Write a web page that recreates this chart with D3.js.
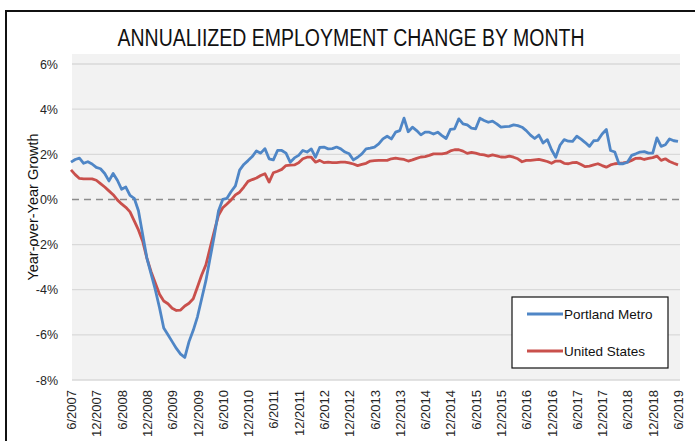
<!DOCTYPE html>
<html>
<head>
<meta charset="utf-8">
<script src="https://cdn.jsdelivr.net/npm/d3@7"></script>
<style>
  body { margin: 0; background: #fff; }
  svg { display: block; font-family: "Liberation Sans", Arial, sans-serif; }
</style>
</head>
<body>
<div id="chart"></div>
<script>

// monthly year-over-year growth, 6/2007 .. 6/2019 (%)
var portland = [
  1.65, 1.77, 1.83, 1.6, 1.67, 1.57, 1.42,
  1.36, 1.15, 0.82, 1.15, 0.85, 0.45, 0.55, 0.18, 0.05, -0.5, -1.55, -2.6,
  -3.3, -4.0, -4.8, -5.7, -6.0, -6.3, -6.6, -6.85, -7.0, -6.3, -5.8, -5.2,
  -4.4, -3.6, -2.6, -1.6, -0.5, 0.0, 0.05, 0.35, 0.6, 1.3, 1.55, 1.72,
  1.9, 2.15, 2.05, 2.25, 1.8, 1.75, 2.17, 2.17, 2.05, 1.65, 1.84, 1.95,
  2.17, 2.1, 2.24, 1.87, 2.3, 2.32, 2.24, 2.25, 2.32, 2.24, 2.1, 2.02,
  1.75, 1.87, 2.02, 2.24, 2.27, 2.32, 2.46, 2.68, 2.8, 2.68, 2.98, 3.05,
  3.6, 3.0, 3.2, 3.05, 2.86, 2.98, 2.98, 2.9, 2.98, 2.83, 2.7, 3.1,
  3.13, 3.57, 3.35, 3.3, 3.16, 3.13, 3.6, 3.5, 3.42, 3.47, 3.35, 3.2,
  3.23, 3.24, 3.3, 3.27, 3.2, 3.05, 2.85, 2.7, 2.85, 2.5, 2.65, 2.2,
  1.87, 2.4, 2.65, 2.58, 2.57, 2.8, 2.67, 2.52, 2.35, 2.6, 2.62, 2.9,
  3.1, 2.17, 2.1, 1.58, 1.58, 1.65, 1.95, 2.02, 2.1, 2.12, 2.05, 2.05,
  2.73, 2.35, 2.42, 2.68, 2.6, 2.57
];

var unitedStates = [
  1.31, 1.1, 0.93, 0.91, 0.91, 0.91, 0.85,
  0.7, 0.55, 0.38, 0.21, -0.02, -0.2, -0.35, -0.55, -0.95, -1.35, -1.85, -2.6,
  -3.2, -3.7, -4.2, -4.5, -4.62, -4.82, -4.92, -4.9, -4.72, -4.6, -4.4, -3.88,
  -3.35, -2.9, -2.15, -1.4, -0.7, -0.37, -0.2, -0.02, 0.2, 0.32, 0.55, 0.8,
  0.88, 0.95, 1.06, 1.14, 0.77, 1.18, 1.25, 1.33, 1.5, 1.52, 1.53, 1.62,
  1.8, 1.87, 1.87, 1.65, 1.73, 1.63, 1.65, 1.63, 1.63, 1.65, 1.65, 1.62,
  1.57, 1.5, 1.55, 1.6, 1.7, 1.72, 1.73, 1.73, 1.73, 1.8, 1.83, 1.8,
  1.77, 1.7, 1.75, 1.82, 1.88, 1.9, 1.95, 2.02, 2.02, 2.02, 2.05, 2.15,
  2.2, 2.2, 2.14, 2.04, 2.08, 2.05, 2.0, 1.97, 1.92, 1.97, 1.93, 1.88,
  1.87, 1.92, 1.87, 1.8, 1.67, 1.73, 1.73, 1.75, 1.77, 1.73, 1.68, 1.6,
  1.7, 1.7, 1.6, 1.58, 1.63, 1.64, 1.55, 1.45, 1.48, 1.53, 1.58, 1.5,
  1.43, 1.53, 1.58, 1.6, 1.62, 1.65, 1.73, 1.82, 1.83, 1.77, 1.82, 1.85,
  1.92, 1.73, 1.8, 1.68, 1.6, 1.53
];

var tickLabels = ["6/2007","12/2007","6/2008","12/2008","6/2009","12/2009","6/2010",
  "12/2010","6/2011","12/2011","6/2012","12/2012","6/2013","12/2013","6/2014",
  "12/2014","6/2015","12/2015","6/2016","12/2016","6/2017","12/2017","6/2018",
  "12/2018","6/2019"];

var yTicks = [-8, -6, -4, -2, 0, 2, 4, 6];

var seriesNames = ["Portland Metro", "United States"];
var seriesColors = ["#4f86c6", "#c9504c"];

var fmtMonth = d3.timeFormat("%-m/%Y");
var months = d3.timeMonth.range(new Date(2007, 5, 1), new Date(2019, 6, 1)).map(fmtMonth);

var width = 695, height = 441;
var plot = {left: 72, right: 680, top: 54, bottom: 380};

var svg = d3.select("#chart").append("svg")
    .attr("width", width)
    .attr("height", height);

// outer frame
svg.append("rect")
    .attr("x", 6).attr("y", 11)
    .attr("width", 760).attr("height", 500)
    .attr("fill", "#fff")
    .attr("stroke", "#111")
    .attr("stroke-width", 2);

svg.append("rect")
    .attr("x", plot.left).attr("y", plot.top)
    .attr("width", plot.right - plot.left)
    .attr("height", plot.bottom - plot.top)
    .attr("fill", "#f2f2f2");

var x = d3.scalePoint()
    .domain(months)
    .range([71, 678]);

var y = d3.scaleLinear()
    .domain([-8, 6])
    .range([380, 64]);

// gridlines
svg.append("g")
  .selectAll("line")
  .data(yTicks.filter(d => d !== 0))
  .join("line")
    .attr("x1", plot.left)
    .attr("x2", plot.right)
    .attr("y1", d => y(d))
    .attr("y2", d => y(d))
    .attr("stroke", "#d9d9d9")
    .attr("stroke-width", 1.3);

svg.append("line")
    .attr("x1", plot.left)
    .attr("x2", plot.right)
    .attr("y1", y(0))
    .attr("y2", y(0))
    .attr("stroke", "#8c8c8c")
    .attr("stroke-width", 1.5)
    .attr("stroke-dasharray", "7,5");

// y axis labels
var yAxis = d3.axisLeft(y)
    .tickValues(yTicks)
    .tickFormat(d => d + "%")
    .tickSize(0)
    .tickPadding(0);

svg.append("g")
    .attr("transform", "translate(58,0)")
    .call(yAxis)
    .call(g => g.select(".domain").remove())
    .selectAll("text")
        .style("font-size", "12.5px")
        .style("font-family", "'Liberation Sans', Arial, sans-serif")
        .attr("fill", "#262626");

// x axis labels
var xAxis = d3.axisBottom(x)
    .tickValues(tickLabels)
    .tickSize(0)
    .tickPadding(0);

svg.append("g")
    .attr("transform", "translate(0,390)")
    .call(xAxis)
    .call(g => g.select(".domain").remove())
    .selectAll("text")
        .style("text-anchor", "end")
        .style("font-size", "13px")
        .style("font-family", "'Liberation Sans', Arial, sans-serif")
        .attr("fill", "#262626")
        .attr("x", 0)
        .attr("y", 0)
        .attr("dy", "0.35em")
        .attr("transform", "rotate(-90)");

// lines
var line = d3.line()
    .x((d, i) => x(months[i]))
    .y(d => y(d));

svg.append("g")
  .selectAll("path")
  .data([unitedStates, portland])
  .join("path")
    .attr("d", line)
    .attr("fill", "none")
    .attr("stroke", (d, i) => seriesColors[1 - i])
    .attr("stroke-width", 2.8)
    .attr("stroke-linejoin", "round");

// titles
svg.append("text")
    .attr("x", 351)
    .attr("y", 46)
    .attr("text-anchor", "middle")
    .attr("textLength", 467)
    .attr("lengthAdjust", "spacingAndGlyphs")
    .style("font-size", "23px")
    .attr("fill", "#111")
    .text("ANNUALIIZED EMPLOYMENT CHANGE BY MONTH");

svg.append("text")
    .attr("transform", "translate(38,207) rotate(-90)")
    .attr("text-anchor", "middle")
    .style("font-size", "14.5px")
    .attr("fill", "#111")
    .text("Year-over-Year Growth");

// legend
var legend = svg.append("g")
    .attr("transform", "translate(512,297)");

legend.append("rect")
    .attr("width", 156)
    .attr("height", 71)
    .attr("fill", "#fff")
    .attr("stroke", "#111")
    .attr("stroke-width", 1.2);

var item = legend.selectAll("g")
  .data(seriesNames)
  .join("g")
    .attr("transform", (d, i) => `translate(0,${17 + i * 37})`);

item.append("line")
    .attr("x1", 15).attr("x2", 51)
    .attr("stroke", (d, i) => seriesColors[i])
    .attr("stroke-width", 2.8);

item.append("text")
    .attr("x", 52)
    .attr("dy", "0.35em")
    .style("font-size", "13.5px")
    .attr("fill", "#111")
    .text(d => d);

</script>
</body>
</html>
